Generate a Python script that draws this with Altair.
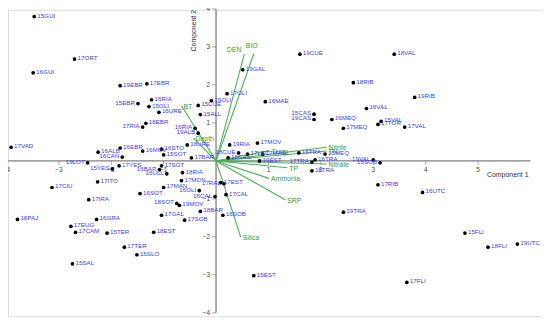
import altair as alt
import pandas as pd

# ---- sample scores (Component 1, Component 2) ----
names = ["15GUI","17ORT","16GUI","19EBR","17EBR","15EBR","15RIA","15OLI","16URE","17RIA",
         "18EBR","17VAD","16ALB","16EBR","16CAN","16MOV","19LOT","15YES","17YES","17CIU",
         "17ITO","17IRA","16SOT","17MAN","18SOT","19MOV","17GAL","17SOB","18BAR","16OLI",
         "16CAL","17RAL","18RIA","17MON","16STO","15SOT","17SOT","16BAR","16ULL","18URE",
         "17BAR","16RIA","19ALB","17OLI","19OLI","15CUE","15ALL","19GAL","19CUE","16MAE",
         "18VAL","18RIB","19RIB","16VAL","16MEQ","17MEQ","15VAL","17TOR","17VAL","15CAS",
         "19CAS","17MOV","19RIA","17LEC","18CUE","17MAE","19EST","16CAS","15TRA","17TRA",
         "16TRA","18TRA","15MEQ","19VAL","15SOB","17RIB","16UTC","19TRA","15FLI","18FLI",
         "19UTC","17FLI","15EST","16SOB","17EST","17CAL","16PAJ","17EUG","16GRA","17CAM",
         "15TER","18EST","17TER","15SLO","15SAL"]
pc1 = [-3.47,-2.70,-3.49,-1.83,-1.32,-1.49,-1.23,-1.28,-1.09,-1.40,
       -1.34,-3.91,-2.25,-1.83,-1.79,-1.40,-2.45,-1.98,-1.85,-3.13,
       -2.26,-2.43,-1.45,-1.00,-0.75,-0.70,-1.04,-0.60,-0.30,-0.32,
       -0.02,0.15,-0.64,-0.66,-1.04,-1.00,-1.04,-1.08,-0.94,-0.55,
       -0.47,-0.40,-0.34,0.21,-0.09,-0.34,-0.30,0.51,1.60,0.94,
       3.40,2.62,3.79,2.87,2.21,2.43,3.15,3.09,3.60,1.87,
       1.87,0.79,0.26,0.60,0.43,0.89,0.83,0.23,1.58,1.83,
       1.89,1.83,2.08,3.00,3.13,3.09,3.94,2.43,4.75,5.19,
       5.75,3.64,0.72,0.13,0.09,0.19,-3.79,-2.77,-2.28,-2.68,
       -2.08,-1.19,-1.75,-1.51,-2.74]
pc2 = [3.80,2.68,2.32,1.98,2.03,1.51,1.61,1.43,1.28,0.89,
       0.99,0.36,0.23,0.34,0.10,0.26,-0.05,-0.21,-0.13,-0.70,
       -0.55,-1.02,-0.86,-0.70,-1.12,-1.17,-1.43,-1.56,-1.33,-0.78,
       -0.94,-0.60,-0.31,-0.52,0.31,0.16,-0.13,-0.23,-0.34,0.42,
       0.08,0.86,0.73,1.77,1.59,1.46,1.22,2.40,2.81,1.56,
       2.81,2.06,1.67,1.38,1.09,0.86,1.04,0.96,0.89,1.23,
       1.09,0.47,0.42,0.18,0.21,0.18,0.00,0.08,0.21,-0.03,
       0.03,-0.26,0.18,0.03,-0.05,-0.63,-0.83,-1.35,-1.90,-2.27,
       -2.19,-3.20,-3.02,-1.43,-0.57,-0.89,-1.54,-1.72,-1.54,-1.88,
       -1.90,-1.88,-2.27,-2.47,-2.71]
# which side of the point the label sits on
label_side = ["R","R","R","R","R","L","R","R","R","L",
              "R","R","R","R","L","R","L","L","R","R",
              "R","R","R","R","L","R","R","R","R","L",
              "L","L","R","R","R","R","R","L","L","R",
              "R","L","L","R","R","R","R","R","R","R",
              "R","R","R","R","R","R","R","R","R","L",
              "L","R","R","R","L","R","R","R","R","L",
              "R","R","R","L","L","R","R","R","R","R",
              "R","R","R","R","R","R","R","R","R","R",
              "R","R","R","R","R"]

# ---- variable loadings (biplot vectors) ----
vec_names = ["DEN","BIO","BT","Depth","Temp","Nitrite","TN","Nitrate","TP","Ammonia","SRP","Silica"]
vec_pc1 = [0.54, 0.72, -0.66, -0.43, 1.02, 2.11, 2.11, 2.11, 1.36, 1.01, 1.32, 0.47]
vec_pc2 = [2.82, 2.82, 1.45, 0.60, 0.27, 0.36, 0.26, -0.08, -0.18, -0.46, -1.02, -2.00]
# label placement relative to the vector tip
vec_label_pos = ["upleft", "up", "right", "right", "right", "right",
                 "right", "right", "right", "right", "right", "right"]

# ---- axes ----
x_ticks = [-4, -3, -2, -1, 1, 2, 3, 4, 5]
y_ticks = [-4, -3, -2, -1, 1, 2, 3, 4]
x_axis_extent = [-4, 6]
y_axis_extent = [-4, 4]
x_title = "Component 1"
y_title = "Component 2"

pts = pd.DataFrame({"name": names, "pc1": pc1, "pc2": pc2, "side": label_side})
vec = pd.DataFrame({"var": vec_names, "pc1": vec_pc1, "pc2": vec_pc2, "pos": vec_label_pos})
vec["ox"] = 0.0
vec["oy"] = 0.0
xt = pd.DataFrame({"v": x_ticks, "z": 0})
yt = pd.DataFrame({"v": y_ticks, "z": 0})
xa = pd.DataFrame({"a": [x_axis_extent[0]], "b": [x_axis_extent[1]], "z": [0]})
ya = pd.DataFrame({"a": [y_axis_extent[0]], "b": [y_axis_extent[1]], "z": [0]})
ttl1 = pd.DataFrame({"x": [x_axis_extent[1]], "y": [0], "t": [x_title]})
ttl2 = pd.DataFrame({"x": [0], "y": [y_axis_extent[1]], "t": [y_title]})

xs = alt.Scale(domain=[-3.97, 6.22], nice=False, zero=False)
ys = alt.Scale(domain=[-4.09, 3.98], nice=False, zero=False)
FONT = "Liberation Sans"
AXC = "#808080"

def X(f):
    return alt.X(f, type="quantitative", scale=xs, axis=None)

def Y(f):
    return alt.Y(f, type="quantitative", scale=ys, axis=None)

x_axis = alt.Chart(xa).mark_rule(color=AXC, strokeWidth=1.3).encode(x=X("a"), x2="b", y=Y("z"))
y_axis = alt.Chart(ya).mark_rule(color=AXC, strokeWidth=1.3).encode(x=X("z"), y=Y("a"), y2="b")
x_tk = alt.Chart(xt).mark_tick(color=AXC, orient="vertical", size=4, thickness=1, yOffset=2).encode(x=X("v"), y=Y("z"))
y_tk = alt.Chart(yt).mark_tick(color=AXC, orient="horizontal", size=4, thickness=1, xOffset=-2).encode(x=X("z"), y=Y("v"))
x_lb = alt.Chart(xt).mark_text(font=FONT, fontSize=6.5, color="#444444", dy=9).encode(
    x=X("v"), y=Y("z"), text=alt.Text("v:Q"))
y_lb = alt.Chart(yt).mark_text(font=FONT, fontSize=6.5, color="#444444", align="right", dx=-6).encode(
    x=X("z"), y=Y("v"), text=alt.Text("v:Q"))
t1 = alt.Chart(ttl1).mark_text(
    font=FONT, fontSize=7, color="#333333", align="right", dy=14, dx=-2).encode(x=X("x"), y=Y("y"), text="t:N")
t2 = alt.Chart(ttl2).mark_text(
    font=FONT, fontSize=7, color="#333333", align="right", angle=270, dy=-22, dx=-1).encode(
    x=X("x"), y=Y("y"), text="t:N")

GREEN = "#4cb050"
TGREEN = "#3a9a3a"
vlines = alt.Chart(vec).mark_rule(color=GREEN, strokeWidth=1.1).encode(
    x=X("ox"), y=Y("oy"), x2="pc1", y2="pc2")
vlab_r = alt.Chart(vec).transform_filter(alt.datum.pos == "right").mark_text(
    font=FONT, fontSize=7, color=TGREEN, align="left", dx=2, dy=1).encode(
    x=X("pc1"), y=Y("pc2"), text="var:N")
vlab_ul = alt.Chart(vec).transform_filter(alt.datum.pos == "upleft").mark_text(
    font=FONT, fontSize=7, color=TGREEN, align="right", baseline="bottom", dx=-3, dy=-1).encode(
    x=X("pc1"), y=Y("pc2"), text="var:N")
vlab_u = alt.Chart(vec).transform_filter(alt.datum.pos == "up").mark_text(
    font=FONT, fontSize=7, color=TGREEN, align="center", baseline="bottom", dx=-2, dy=-5).encode(
    x=X("pc1"), y=Y("pc2"), text="var:N")

dots = alt.Chart(pts).mark_circle(size=14, color="black", opacity=1).encode(x=X("pc1"), y=Y("pc2"))
lab_r = alt.Chart(pts).transform_filter(alt.datum.side == "R").mark_text(
    font=FONT, fontSize=6.3, color="#3b3bff", align="left", dx=3, dy=-1).encode(
    x=X("pc1"), y=Y("pc2"), text="name:N")
lab_l = alt.Chart(pts).transform_filter(alt.datum.side == "L").mark_text(
    font=FONT, fontSize=6.3, color="#3b3bff", align="right", dx=-3, dy=-1).encode(
    x=X("pc1"), y=Y("pc2"), text="name:N")

chart = alt.layer(x_axis, y_axis, x_tk, y_tk, x_lb, y_lb, t1, t2,
                  vlines, vlab_r, vlab_ul, vlab_u, dots, lab_r, lab_l).properties(
    width=540, height=310, padding=0,
    autosize=alt.AutoSizeParams(type="none")
).configure_view(stroke=None).configure(background="white")

chart.save("out.html", embed_options={"renderer": "svg", "actions": False})
